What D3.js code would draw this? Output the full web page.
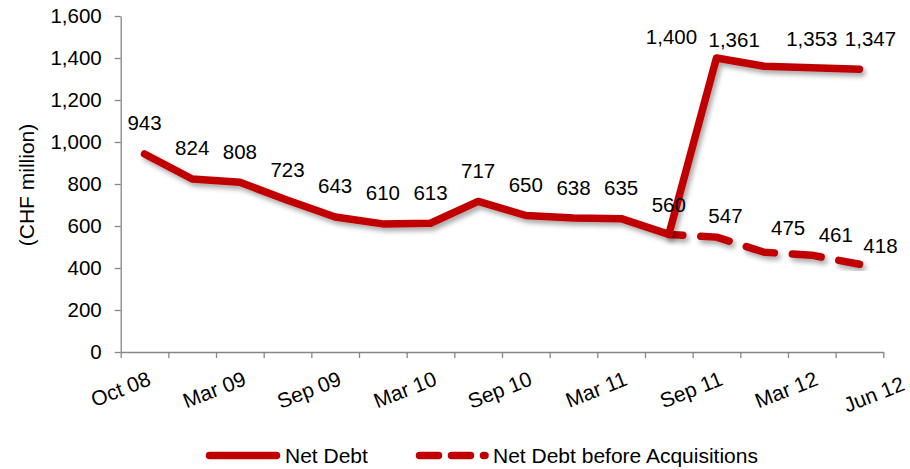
<!DOCTYPE html>
<html>
<head>
<meta charset="utf-8">
<script src="https://cdn.jsdelivr.net/npm/d3@7/dist/d3.min.js"></script>
<style>
  html, body { margin: 0; padding: 0; background: #fff; }
  svg { display: block; font-family: "Liberation Sans", Arial, sans-serif; }
</style>
</head>
<body>
<svg id="chart" width="910" height="469"></svg>
<script>
// Quarterly periods on the category axis
const categories = ["Oct 08", "Dec 08", "Mar 09", "Jun 09", "Sep 09", "Dec 09", "Mar 10", "Jun 10",
                    "Sep 10", "Dec 10", "Mar 11", "Jun 11", "Sep 11", "Dec 11", "Mar 12", "Jun 12"];

// Net debt, CHF million
const netDebt = [943, 824, 808, 723, 643, 610, 613, 717, 650, 638, 635, 560, 1400, 1361, 1353, 1347];

// Net debt excluding acquisitions (starts where the two series split)
const netDebtBeforeAcq = [null, null, null, null, null, null, null, null, null, null, null,
                          560, 547, 475, 461, 418];

const yTicks = [0, 200, 400, 600, 800, 1000, 1200, 1400, 1600];
const xTickLabels = ["Oct 08", "Mar 09", "Sep 09", "Mar 10", "Sep 10", "Mar 11", "Sep 11", "Mar 12", "Jun 12"];

const seriesNames = ["Net Debt", "Net Debt before Acquisitions"];

// ---- layout ----
const svg = d3.select("#chart");
const plotLeft = 120.7, plotRight = 883.3, plotTop = 16, plotBottom = 352;
const RED = "#C00000";
const AXIS = "#868686";
const FS = "20.5px";

const x = d3.scaleBand().domain(categories).range([plotLeft, plotRight]).padding(0);
const cx = c => x(c) + x.bandwidth() / 2;
const y = d3.scaleLinear().domain([0, 1600]).range([plotBottom, plotTop]);
const boundary = d3.scaleLinear().domain([0, categories.length]).range([plotLeft, plotRight]);

// soft drop shadow under the plotted lines
const defs = svg.append("defs");
const f = defs.append("filter").attr("id", "shadow")
  .attr("x", "-10%").attr("y", "-10%").attr("width", "120%").attr("height", "130%");
f.append("feDropShadow").attr("dx", 2.5).attr("dy", 3.5).attr("stdDeviation", 2.5)
  .attr("flood-color", "#000").attr("flood-opacity", 0.35);

// ---- y axis ----
const yAxis = svg.append("g").attr("transform", `translate(${plotLeft},0)`)
  .call(d3.axisLeft(y).tickValues(yTicks).tickFormat(d3.format(",")).tickSize(6).tickSizeOuter(0).tickPadding(13));
yAxis.select(".domain").attr("stroke", AXIS).attr("stroke-width", 1.3);
yAxis.selectAll(".tick line").attr("stroke", AXIS).attr("stroke-width", 1.3);
yAxis.selectAll(".tick text").attr("fill", "#000").style("font-size", FS)
  .style("font-family", "'Liberation Sans', Arial, sans-serif");

// ---- x axis (ticks on category boundaries) ----
const xAxis = svg.append("g").attr("transform", `translate(0,${plotBottom})`)
  .call(d3.axisBottom(boundary).tickValues(d3.range(categories.length + 1)).tickFormat("").tickSize(6).tickSizeOuter(0));
xAxis.select(".domain").attr("stroke", AXIS).attr("stroke-width", 1.3);
xAxis.selectAll(".tick line").attr("stroke", AXIS).attr("stroke-width", 1.3);

// rotated category labels, right end aligned to the category centre
svg.append("g").selectAll("text").data(xTickLabels).join("text")
  .attr("transform", d => {
    const isLast = d === categories[categories.length - 1];
    const px = cx(d) + 2 + (isLast ? 39 : 0);
    const py = 370.5 + (isLast ? 5 : 0);
    return `translate(${px},${py}) rotate(-21.5)`;
  })
  .attr("text-anchor", "end")
  .attr("dy", "0.72em")
  .style("font-size", "21px")
  .attr("fill", "#000")
  .text(d => d);

// y axis title
svg.append("text")
  .attr("transform", "translate(34,185) rotate(-90)")
  .attr("text-anchor", "middle")
  .style("font-size", "21px")
  .attr("fill", "#000")
  .text("(CHF million)");

// ---- lines ----
const line = d3.line()
  .defined(d => d.v != null)
  .x(d => cx(d.c))
  .y(d => y(d.v));

const ndData = categories.map((c, i) => ({ c, v: netDebt[i], i }));
const acqData = categories.map((c, i) => ({ c, v: netDebtBeforeAcq[i], i }));

svg.append("path")
  .datum(acqData)
  .attr("d", line)
  .attr("fill", "none")
  .attr("stroke", RED)
  .attr("stroke-width", 7.5)
  .attr("stroke-linecap", "round")
  .attr("stroke-linejoin", "round")
  .attr("stroke-dasharray", "29,18")
  .attr("stroke-dashoffset", 15)
  .attr("filter", "url(#shadow)");

svg.append("path")
  .datum(ndData)
  .attr("d", line)
  .attr("fill", "none")
  .attr("stroke", RED)
  .attr("stroke-width", 7.5)
  .attr("stroke-linecap", "round")
  .attr("stroke-linejoin", "round")
  .attr("filter", "url(#shadow)");

// ---- data labels ----
const fmt = d3.format(",");
// per-point nudges [dx, dy] for labels that would collide with the lines
const ndNudge = { 11: [0, 1.5], 12: [-45, 9.5], 13: [-30, 4], 14: [0, 1.5], 15: [11, 0] };
const acqNudge = { 12: [9, 9.5], 13: [24, 6.5], 14: [24, 10], 15: [21, 12] };

function labels(data, nudge, skip) {
  svg.append("g").selectAll("text")
    .data(data.filter(d => d.v != null && !skip.includes(d.i)))
    .join("text")
    .attr("x", d => cx(d.c) + (nudge[d.i] ? nudge[d.i][0] : 0))
    .attr("y", d => y(d.v) - 23.5 + (nudge[d.i] ? nudge[d.i][1] : 0))
    .attr("text-anchor", "middle")
    .style("font-size", FS)
    .attr("fill", "#000")
    .text(d => fmt(d.v));
}
labels(ndData, ndNudge, []);
labels(acqData, acqNudge, [11]);

// ---- legend ----
const legend = svg.append("g");
legend.append("line")
  .attr("x1", 209.5).attr("x2", 276.5).attr("y1", 455.5).attr("y2", 455.5)
  .attr("stroke", RED).attr("stroke-width", 7.5).attr("stroke-linecap", "round");
legend.append("text")
  .attr("x", 285).attr("y", 463)
  .style("font-size", "21px").attr("fill", "#000")
  .text(seriesNames[0]);

legend.append("line")
  .attr("x1", 419.5).attr("x2", 485).attr("y1", 455.5).attr("y2", 455.5)
  .attr("stroke", RED).attr("stroke-width", 7.5).attr("stroke-linecap", "round")
  .attr("stroke-dasharray", "19,13");
legend.append("text")
  .attr("x", 493).attr("y", 463)
  .style("font-size", "21px").attr("fill", "#000")
  .text(seriesNames[1]);
</script>
</body>
</html>
